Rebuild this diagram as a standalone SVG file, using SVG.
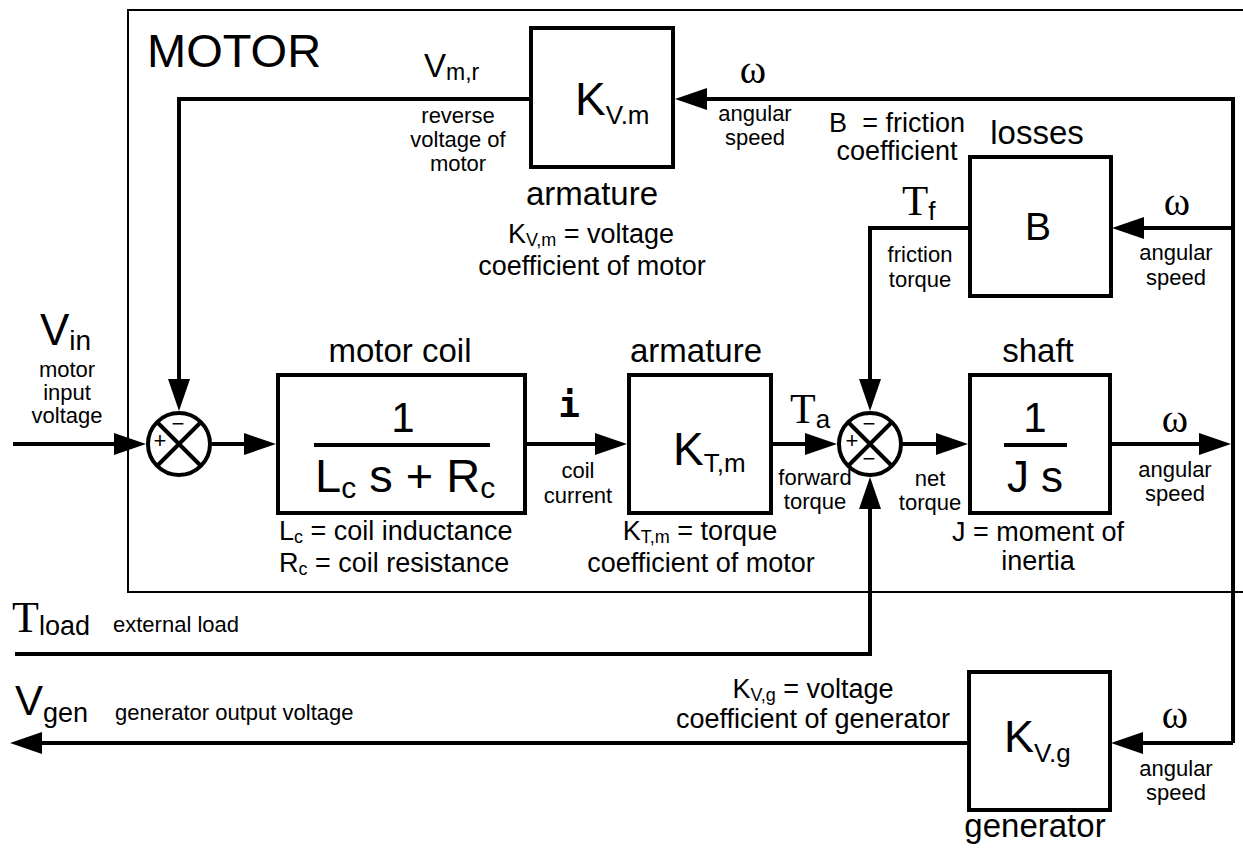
<svg xmlns="http://www.w3.org/2000/svg" width="1243" height="849" viewBox="0 0 1243 849">
<style>
.frame{fill:none;stroke:#000;stroke-width:2}
.ln{fill:none;stroke:#000;stroke-width:4}
.box{fill:#fff;stroke:#000;stroke-width:4}
.sj{fill:#fff;stroke:#000;stroke-width:4}
.x{stroke:#000;stroke-width:4}
text{font-family:"Liberation Sans",Arial,sans-serif;fill:#000}
.serif{font-family:"Liberation Serif","Times New Roman",serif}
.mono{font-family:"DejaVu Sans Mono","Liberation Mono",monospace;font-weight:bold}
.f23{font-size:22px}
.f27{font-size:27px}
.f33{font-size:33px}
.m{text-anchor:middle}
.sign{font-size:22px;text-anchor:middle}
</style>
<defs>
<marker id="ah" markerUnits="userSpaceOnUse" markerWidth="34" markerHeight="24" refX="0" refY="12" orient="auto" overflow="visible">
<path d="M0,1 L32,12 L0,23 z" fill="#000"/>
</marker>
</defs>
<rect width="1243" height="849" fill="#fff"/>
<g id="motor-frame">
<path class="frame" d="M1250,10 H128 V592 H1250"/>
<text x="147" y="67" style="font-size:47px">MOTOR</text>
</g>
<g id="connectors">
<path class="ln" d="M13,444 H114" marker-end="url(#ah)"/>
<path class="ln" d="M212,444 H244" marker-end="url(#ah)"/>
<path class="ln" d="M525,444 H595" marker-end="url(#ah)"/>
<path class="ln" d="M771,444 H805" marker-end="url(#ah)"/>
<path class="ln" d="M901,444 H936" marker-end="url(#ah)"/>
<path class="ln" d="M1110,444 H1199" marker-end="url(#ah)"/>
<path class="ln" d="M1233,743 V99 H707" marker-end="url(#ah)"/>
<path class="ln" d="M531,99 H179 V379" marker-end="url(#ah)"/>
<path class="ln" d="M1233,228 H1144" marker-end="url(#ah)"/>
<path class="ln" d="M970,228 H870 V379" marker-end="url(#ah)"/>
<path class="ln" d="M15,654 H870 V509" marker-end="url(#ah)"/>
<path class="ln" d="M1233,743 H1143" marker-end="url(#ah)"/>
<path class="ln" d="M969,743 H42" marker-end="url(#ah)"/>
</g>
<g id="sum1">
<circle class="sj" cx="179" cy="444" r="31"/>
<path class="x" d="M157,422 L201,466 M201,422 L157,466"/>
<text class="sign" x="160" y="448">+</text>
<text class="sign" x="178" y="431">−</text>
</g>
<g id="sum2">
<circle class="sj" cx="870" cy="444" r="31"/>
<path class="x" d="M848,422 L892,466 M892,422 L848,466"/>
<text class="sign" x="852" y="448">+</text>
<text class="sign" x="869" y="431">−</text>
<text class="sign" x="869" y="466">−</text>
</g>
<g id="kvm">
<rect class="box" x="531" y="28" width="142" height="139"/>
<text x="575" y="115" style="font-size:46px">K<tspan style="font-size:26px" dy="9">V.m</tspan></text>
<text class="f33 m" x="592" y="205">armature</text>
<text class="f27 m" x="591" y="243">K<tspan style="font-size:18px" dy="3">V,m</tspan><tspan dy="-3"> = voltage</tspan></text>
<text class="f27 m" x="592" y="275">coefficient of motor</text>
</g>
<g id="coil">
<rect class="box" x="278" y="375" width="247" height="138"/>
<path class="ln" d="M314,445 H490"/>
<text class="m" x="403" y="432" style="font-size:42px">1</text>
<text x="315" y="492" style="font-size:47px">L<tspan style="font-size:30px" dy="6">c</tspan><tspan dy="-6"> s + R</tspan><tspan style="font-size:30px" dy="6">c</tspan></text>
<text class="f33 m" x="400" y="362">motor coil</text>
<text class="f27" x="279" y="540">L<tspan style="font-size:18px" dy="3">c</tspan><tspan dy="-3"> = coil inductance</tspan></text>
<text class="f27" x="279" y="572">R<tspan style="font-size:18px" dy="3">c</tspan><tspan dy="-3"> = coil resistance</tspan></text>
</g>
<g id="ktm">
<rect class="box" x="629" y="375" width="142" height="138"/>
<text x="673" y="465" style="font-size:46px">K<tspan style="font-size:26px" dy="7">T,m</tspan></text>
<text class="f33 m" x="696" y="362">armature</text>
<text class="f27 m" x="700" y="540">K<tspan style="font-size:18px" dy="3">T,m</tspan><tspan dy="-3"> = torque</tspan></text>
<text class="f27 m" x="701" y="572">coefficient of motor</text>
</g>
<g id="shaft">
<rect class="box" x="970" y="375" width="140" height="138"/>
<path class="ln" d="M1004,445 H1067"/>
<text class="m" x="1035" y="432" style="font-size:42px">1</text>
<text class="m" x="1035" y="492" style="font-size:44px">J s</text>
<text class="f33 m" x="1038" y="362">shaft</text>
<text class="f27 m" x="1038" y="541">J = moment of</text>
<text class="f27 m" x="1038" y="570">inertia</text>
</g>
<g id="losses">
<rect class="box" x="970" y="157" width="141" height="139"/>
<text class="m" x="1038" y="240" style="font-size:39px">B</text>
<text class="f33 m" x="1037" y="144">losses</text>
<text class="f27" x="829" y="132">B</text>
<text class="f27" x="965" y="132" text-anchor="end">= friction</text>
<text class="f27 m" x="897" y="160">coefficient</text>
</g>
<g id="kvg">
<rect class="box" x="969" y="672" width="141" height="138"/>
<text x="1004" y="752" style="font-size:45px">K<tspan style="font-size:26px" dy="10">V.g</tspan></text>
<text class="f33 m" x="1035" y="837">generator</text>
<text class="f27 m" x="813" y="698">K<tspan style="font-size:18px" dy="3">V,g</tspan><tspan dy="-3"> = voltage</tspan></text>
<text class="f27 m" x="813" y="728">coefficient of generator</text>
</g>
<g id="labels">
<text x="40" y="345" style="font-size:44px">V<tspan style="font-size:28px" dy="5">in</tspan></text>
<text class="f23 m" x="67" y="377">motor</text>
<text class="f23 m" x="67" y="400">input</text>
<text class="f23 m" x="67" y="423">voltage</text>
<text x="424" y="77" style="font-size:33px">V<tspan style="font-size:23px" dy="3">m,r</tspan></text>
<text class="f23 m" x="458" y="123">reverse</text>
<text class="f23 m" x="458" y="147">voltage of</text>
<text class="f23 m" x="458" y="171">motor</text>
<text class="serif m" x="753" y="83" style="font-size:40px">ω</text>
<text class="f23 m" x="755" y="121">angular</text>
<text class="f23 m" x="755" y="145">speed</text>
<text class="serif" x="902" y="215" style="font-size:43px">T<tspan style="font-family:'Liberation Sans',sans-serif;font-size:26px" dy="5">f</tspan></text>
<text class="f23 m" x="920" y="262">friction</text>
<text class="f23 m" x="920" y="287">torque</text>
<text class="serif m" x="1177" y="215" style="font-size:40px">ω</text>
<text class="f23 m" x="1176" y="260">angular</text>
<text class="f23 m" x="1176" y="285">speed</text>
<text class="mono m" x="569" y="417" style="font-size:36px">i</text>
<text class="f23 m" x="578" y="478">coil</text>
<text class="f23 m" x="578" y="503">current</text>
<text class="serif" x="790" y="423" style="font-size:42px">T<tspan style="font-family:'Liberation Sans',sans-serif;font-size:26px" dy="5">a</tspan></text>
<text class="f23 m" x="815" y="485">forward</text>
<text class="f23 m" x="815" y="509">torque</text>
<text class="f23 m" x="930" y="486">net</text>
<text class="f23 m" x="930" y="510">torque</text>
<text class="serif m" x="1175" y="432" style="font-size:40px">ω</text>
<text class="f23 m" x="1175" y="477">angular</text>
<text class="f23 m" x="1175" y="501">speed</text>
<text class="serif" x="12" y="632" style="font-size:44px">T<tspan style="font-family:'Liberation Sans',sans-serif;font-size:27px" dy="3">load</tspan></text>
<text class="f23" x="113" y="632">external load</text>
<text x="15" y="715" style="font-size:42px">V<tspan style="font-size:27px" dy="7">gen</tspan></text>
<text class="f23" x="115" y="720">generator output voltage</text>
<text class="serif m" x="1175" y="728" style="font-size:40px">ω</text>
<text class="f23 m" x="1176" y="776">angular</text>
<text class="f23 m" x="1176" y="800">speed</text>
</g>
</svg>
